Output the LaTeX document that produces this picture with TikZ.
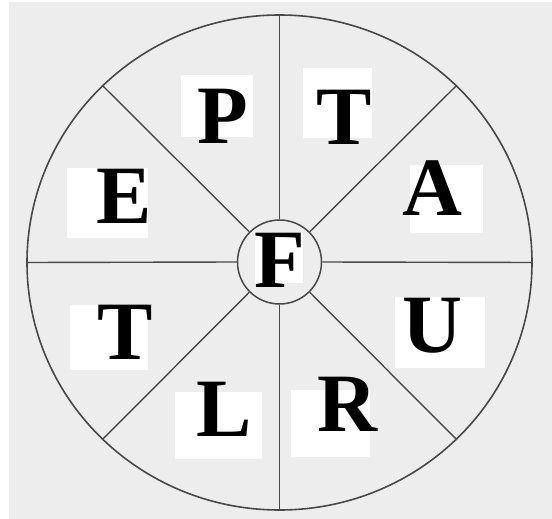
\documentclass[tikz,border=0pt]{standalone}
\usepackage{fontspec}
\setmainfont{Liberation Serif}[BoldFont={Liberation Serif Bold}]
\usetikzlibrary{shapes.geometric}
\definecolor{paperc}{HTML}{EDEDED}
\definecolor{linec}{HTML}{484848}
\tikzset{
  rim/.style={ellipse,draw=linec,line width=1.6pt,minimum width=505pt,minimum height=495pt,inner sep=0pt},
  hubc/.style={circle,draw=linec,line width=1.5pt,minimum size=84pt,inner sep=0pt},
  spoke/.style={draw=linec,line width=1.4pt},
  patch/.style={fill=white,inner sep=0pt},
  lett/.style={anchor=base,inner sep=0pt,font=\fontsize{83}{83}\selectfont\bfseries}
}

\begin{document}
\begin{tikzpicture}[x=1pt,y=-1pt]
\useasboundingbox (0,0) rectangle (552,519);
\fill[white] (0,0) rectangle (552,519);
\fill[paperc] (9,2) rectangle (552,519);
% wheel
\node[rim] (wheel) at (279.5,262.5) {};
\node[hubc] (hub) at (279.5,262) {};
\foreach \a in {0,45,...,315}
  \draw[spoke] (hub.\a) -- (wheel.\a);
% white patches behind the letters
\node[patch,minimum width=72pt,minimum height=62pt] (pbox) at (217,106) {};
\node[patch,minimum width=69pt,minimum height=70pt] (tbox) at (337.5,103) {};
\node[patch,minimum width=73pt,minimum height=68pt] (abox) at (446.5,199) {};
\node[patch,minimum width=90pt,minimum height=71pt] (ubox) at (440,332.5) {};
\node[patch,minimum width=79pt,minimum height=67pt] (rbox) at (330.5,423.5) {};
\node[patch,minimum width=87pt,minimum height=67pt] (lbox) at (218.5,425.5) {};
\node[patch,minimum width=78pt,minimum height=65pt] (sbox) at (109,337.5) {};
\node[patch,minimum width=81pt,minimum height=70pt] (ebox) at (107.5,203) {};
\node[patch,minimum width=48pt,minimum height=51pt] (fbox) at (279,257.5) {};
% letters
\node[lett] (p) at (222.5,143) {P};
\node[lett] (t) at (344,144) {T};
\node[lett] (a) at (432.5,215) {A};
\node[lett] (u) at (432.5,352) {U};
\node[lett] (r) at (347,431) {R};
\node[lett] (l) at (224.5,436) {L};
\node[lett] (s) at (125,359) {T};
\node[lett] (e) at (124.5,223) {E};
\node[lett] (f) at (280,287) {F};
\end{tikzpicture}
\end{document}
